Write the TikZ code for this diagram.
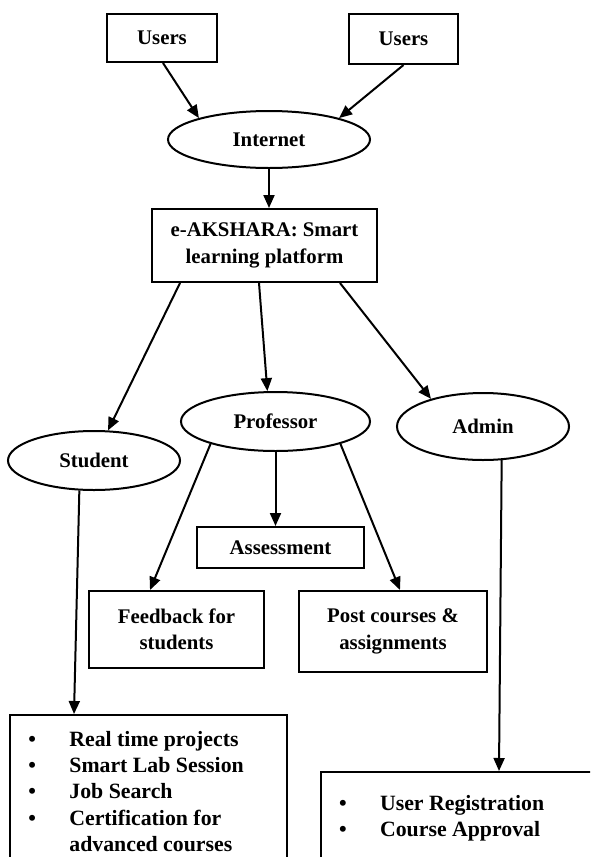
\documentclass[tikz,border=0pt]{standalone}
\usepackage{fontspec}
\setmainfont{Liberation Serif}
\usetikzlibrary{shapes.geometric,arrows.meta}
\newcommand\diagfont{\fontsize{20.8}{26.5}\selectfont\bfseries}
\newcommand\listfont{\fontsize{21.8}{26.4}\selectfont\bfseries}
\newcommand\itemdot{\makebox[41pt][l]{\textbullet}}
\begin{document}
\begin{tikzpicture}[x=1pt,y=-1pt,
  box/.style={draw, line width=2pt, rectangle, inner sep=0pt, align=center, font=\diagfont},
  oval/.style={draw, line width=2pt, ellipse, inner sep=0pt, font=\diagfont},
  link/.style={line width=2pt, -{Triangle[length=13pt,width=11pt]}},
  listtext/.style={anchor=base west, inner sep=0pt, font=\listfont}]
\useasboundingbox (0,0) rectangle (590,857);
\clip (0,0) rectangle (590,857);

% access layer
\node[box, minimum width=110pt, minimum height=48pt] (usersL) at (162,38) {Users};
\node[box, minimum width=109pt, minimum height=50pt] (usersR) at (403.5,39) {Users};
\node[oval, minimum width=202pt, minimum height=57pt] (internet) at (269,139.5) {Internet};
\node[box, minimum width=225pt, minimum height=73pt] (platform) at (264.5,245.5) {e-AKSHARA: Smart\\learning platform};

% roles
\node[oval, minimum width=172pt, minimum height=59pt] (student) at (94,460.5) {Student};
\node[oval, minimum width=189pt, minimum height=59pt] (professor) at (275.5,421.5) {Professor};
\node[oval, minimum width=172pt, minimum height=67pt] (admin) at (483,426.5) {Admin};

% professor tasks
\node[box, minimum width=167pt, minimum height=41pt] (assess) at (280.5,547.5) {Assessment};
\node[box, minimum width=175pt, minimum height=77pt] (feedback) at (176.5,629.5) {Feedback for\\students};
\node[box, minimum width=188pt, minimum height=81pt] (post) at (393,631.5) {Post courses \&\\assignments};

% feature lists, running past the page edges
\node[box, anchor=north west, minimum width=277pt, minimum height=170pt] (studentlist) at (9,714) {};
\node[box, anchor=north west, minimum width=300pt, minimum height=120pt] (adminlist) at (320,771) {};
\node[listtext] (studenttext) at (28.2,746) {\begin{tabular}[t]{@{}l@{}}
  \itemdot Real time projects\\
  \itemdot Smart Lab Session\\
  \itemdot Job Search\\
  \itemdot Certification for\\
  \hspace{41pt}advanced courses
\end{tabular}};
\node[listtext] (admintext) at (338.9,810) {\begin{tabular}[t]{@{}l@{}}
  \itemdot User Registration\\
  \itemdot Course Approval
\end{tabular}};

% connectors
\draw[link] ([xshift=1pt]usersL.south) -- (internet.163);
\draw[link] (usersR.south) -- (internet.17);
\draw[link] (internet.south) -- (internet.south |- platform.north);
\draw[link] ([xshift=-84.5pt]platform.south) -- (student.65);
\draw[link] ([xshift=-5.5pt]platform.south) -- (professor.105);
\draw[link] ([xshift=75.5pt]platform.south) -- (admin.152);
\draw[link] (professor.199) -- ([xshift=-26.5pt]feedback.north);
\draw[link] (professor.south) -- (professor.south |- assess.north);
\draw[link] (professor.-19) -- ([xshift=7pt]post.north);
\draw[link] (student.244) -- ([xshift=-74.5pt]studentlist.north);
\draw[link] (admin.-61) -- ([xshift=179pt]adminlist.north west);
\end{tikzpicture}
\end{document}
